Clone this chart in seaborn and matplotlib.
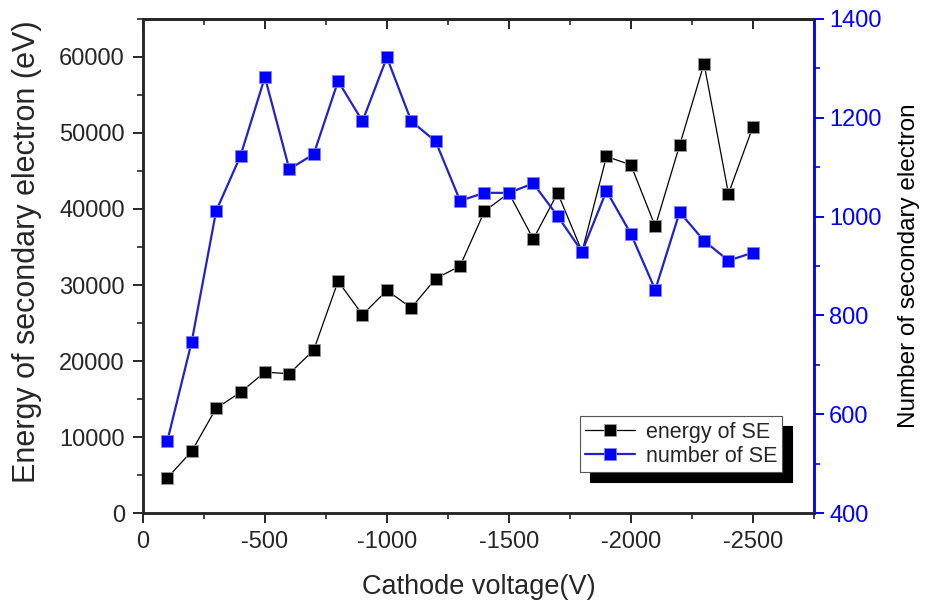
import matplotlib
matplotlib.use('Agg')
import matplotlib.pyplot as plt
import seaborn as sns
import pandas as pd
from matplotlib.ticker import MultipleLocator

# cathode voltage (V)
voltage = [-100, -200, -300, -400, -500, -600, -700, -800, -900, -1000,
           -1100, -1200, -1300, -1400, -1500, -1600, -1700, -1800, -1900, -2000,
           -2100, -2200, -2300, -2400, -2500]
# energy of secondary electrons (eV)
energy = [4650, 8150, 13800, 15900, 18550, 18350, 21450, 30500, 26100, 29300,
          27000, 30850, 32500, 39700, 42100, 36050, 42100, 34400, 46900, 45800,
          37700, 48400, 59100, 42000, 50800]
# number of secondary electrons
number = [546, 747, 1011, 1123, 1282, 1096, 1126, 1274, 1193, 1322,
          1193, 1152, 1032, 1048, 1048, 1067, 1001, 929, 1052, 965,
          852, 1009, 951, 911, 927]

df = pd.DataFrame({'voltage': voltage, 'energy': energy, 'number': number})

sns.set_style('ticks')
plt.rcParams['font.family'] = ['Liberation Sans', 'DejaVu Sans']
plt.rcParams['axes.unicode_minus'] = False

fig = plt.figure(figsize=(9.28, 6.06), dpi=100)
ax = fig.add_axes([0.154, 0.153, 0.723, 0.816])
ax2 = ax.twinx()

sns.lineplot(data=df, x='voltage', y='energy', ax=ax, color='black', lw=0.9,
             marker='s', markersize=8.5, markeredgecolor='#999999', markeredgewidth=0.6,
             markerfacecolor='black', label='energy of SE', legend=False)
sns.lineplot(data=df, x='voltage', y='number', ax=ax2, color='#2222c8', lw=1.6,
             marker='s', markersize=8.5, markeredgecolor='#8080ff', markeredgewidth=0.6,
             markerfacecolor='#0000ff', label='number of SE', legend=False)

ax.set_xlim(0, -2750)
ax.set_ylim(0, 65000)
ax2.set_ylim(400, 1400)
ax.set_xticks([0, -500, -1000, -1500, -2000, -2500])
ax.xaxis.set_minor_locator(MultipleLocator(250))
ax.set_yticks(range(0, 60001, 10000))
ax.yaxis.set_minor_locator(MultipleLocator(5000))
ax2.set_yticks(range(400, 1401, 200))
ax2.yaxis.set_minor_locator(MultipleLocator(100))

# bottom / left / right ticks point outward, top ticks point inward
ax.tick_params(axis='both', which='both', direction='out', top=False, labelsize=17, pad=6)
ax.tick_params(which='major', length=7, width=1.4)
ax.tick_params(which='minor', length=4, width=1.2)
ax2.tick_params(axis='y', which='both', direction='out', colors='blue', labelsize=17, pad=4)
ax2.tick_params(which='major', length=7, width=1.4)
ax2.tick_params(which='minor', length=4, width=1.2)

top = ax.secondary_xaxis('top')
top.set_xticks([0, -500, -1000, -1500, -2000, -2500])
top.xaxis.set_minor_locator(MultipleLocator(250))
top.tick_params(which='both', direction='in', labeltop=False)
top.tick_params(which='major', length=7, width=1.4)
top.tick_params(which='minor', length=4, width=1.2)
top.spines['top'].set_linewidth(1.8)

for sp in ax.spines.values():
    sp.set_linewidth(1.8)
for sp in ax2.spines.values():
    sp.set_linewidth(1.8)
ax2.spines['right'].set_color('blue')

ax.set_xlabel('Cathode voltage(V)', fontsize=19.5, labelpad=15)
ax.set_ylabel('Energy of secondary electron (eV)', fontsize=22, labelpad=12)
ax.yaxis.label.set_y(0.53)
ax2.set_ylabel('Number of secondary electron', fontsize=17.5, labelpad=12, color='black')

h1 = ax.get_lines()[0]
h2 = ax2.get_lines()[0]
leg = ax2.legend([h1, h2], ['energy of SE', 'number of SE'],
                 loc='lower right', bbox_to_anchor=(0.953, 0.083),
                 fontsize=15.5, fancybox=False, framealpha=1,
                 edgecolor='#555555', handlelength=2.3, handletextpad=0.5,
                 borderpad=0.25, labelspacing=0.15, borderaxespad=0,
                 shadow={'color': 'black', 'alpha': 1, 'ox': 7, 'oy': -7})
leg.get_frame().set_linewidth(0.8)

plt.savefig('out.png', dpi=100)
